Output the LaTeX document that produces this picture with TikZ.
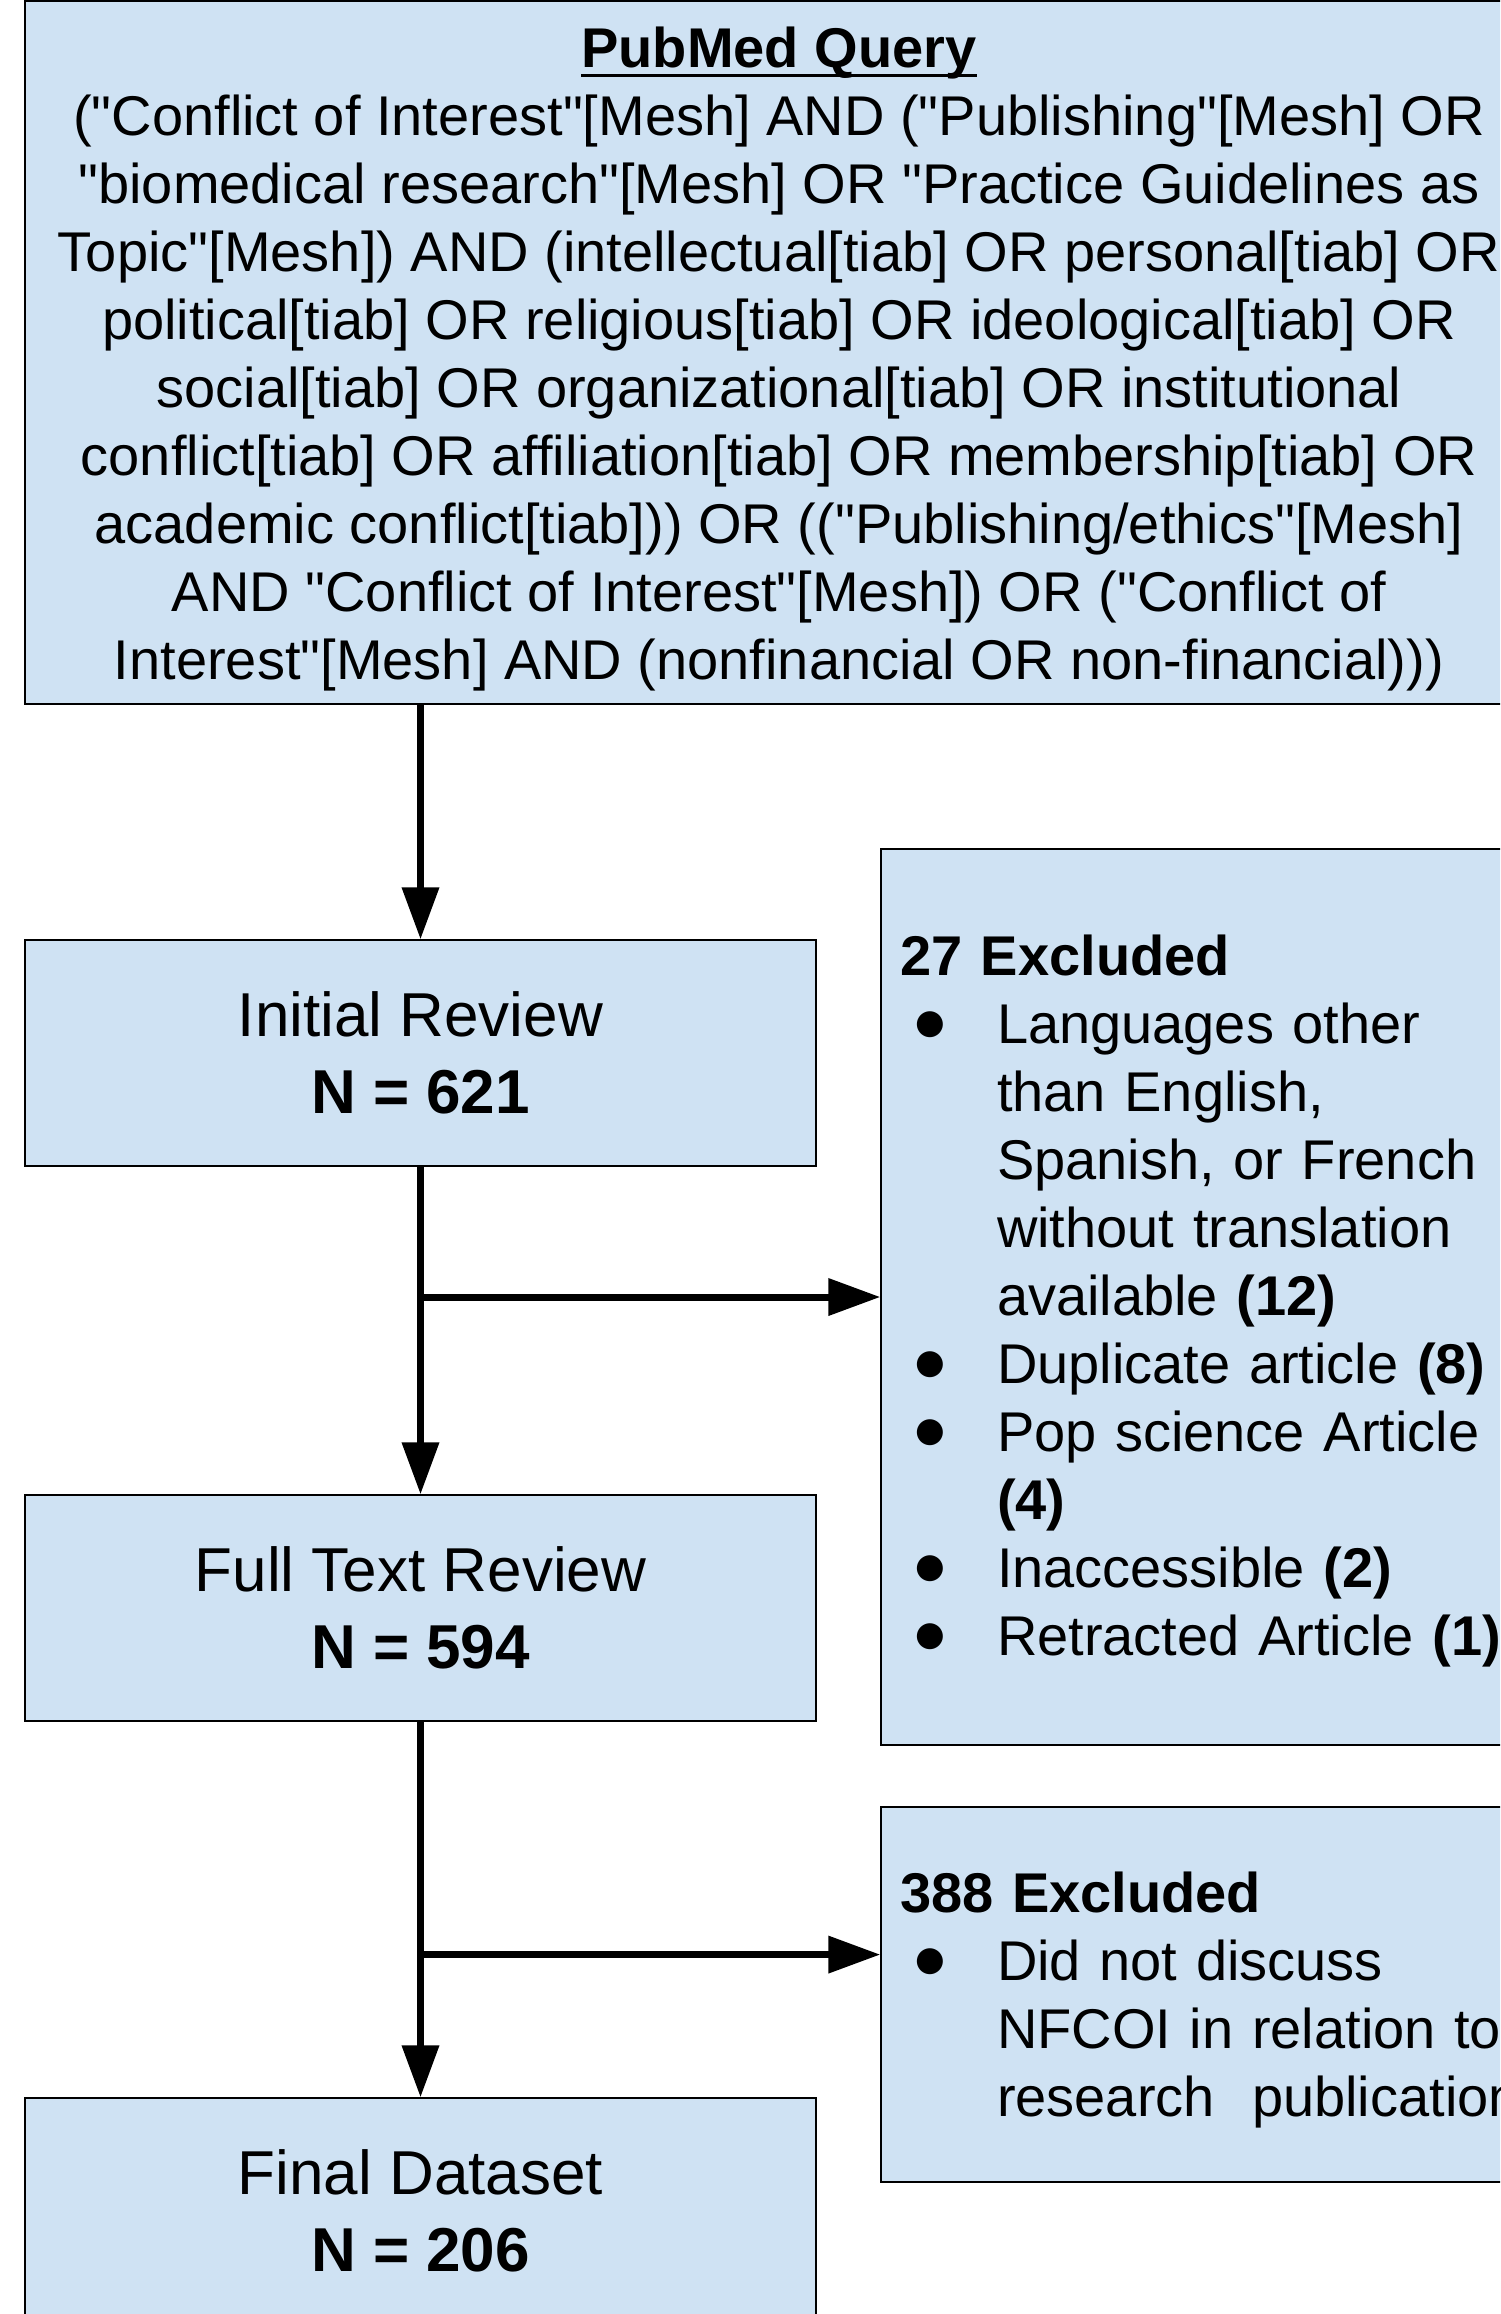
\documentclass[tikz,border=0pt]{standalone}
\usepackage{fontspec}
\setmainfont{Liberation Sans}[Ligatures=TeXOff]
\newfontfamily\symfont{DejaVu Sans}
\usetikzlibrary{arrows.meta,calc}
\definecolor{boxblue}{HTML}{CFE2F3}
\newcommand\bul{\raisebox{5.2pt}{\fontsize{17pt}{17pt}\symfont ●}}
\newcommand\itm{\makebox[48.5pt][l]{\hspace{7.85pt}\bul}}
\newcommand\ind{\hspace*{48.5pt}}
\newcommand\uline[1]{\setbox0\hbox{#1}\rlap{\rule[-4.7pt]{\wd0}{1.4pt}}\box0}

\begin{document}
\begin{tikzpicture}[x=0.5pt,y=-0.5pt,
	box/.style={draw=black, line width=0.7pt, fill=boxblue, rectangle, inner sep=0pt, align=center},
	big/.style={font=\fontsize{31pt}{38.5pt}\selectfont},
	small/.style={font=\fontsize{28pt}{34pt}\selectfont},
	arr/.style={line width=3.5pt, -{Triangle[length=26pt,width=18pt]}}]
	\useasboundingbox (0,0) rectangle (1500,2314);
	\clip (0,0) rectangle (1500,2314);

	% search query
	\node[box, small, minimum width=754pt, minimum height=351.5pt] (query) at (779,352.5) {\rule{0pt}{26.5pt}\uline{\textbf{PubMed Query}}\\
		("Conflict of Interest"[Mesh] AND ("Publishing"[Mesh] OR\\
		"biomedical research"[Mesh] OR "Practice Guidelines as\\
		Topic"[Mesh]) AND (intellectual[tiab] OR personal[tiab] OR\\
		political[tiab] OR religious[tiab] OR ideological[tiab] OR\\
		social[tiab] OR organizational[tiab] OR institutional\\
		conflict[tiab] OR affiliation[tiab] OR membership[tiab] OR\\
		academic conflict[tiab])) OR (("Publishing/ethics"[Mesh]\\
		AND "Conflict of Interest"[Mesh]) OR ("Conflict of\\
		Interest"[Mesh] AND (nonfinancial OR non-financial)))};

	% review stages
	\node[box, big, minimum width=395.5pt, minimum height=113pt] (init) at (420.5,1053) {Initial Review\\\textbf{N = 621}};
	\node[box, big, minimum width=395.5pt, minimum height=113pt] (full) at (420.5,1608) {Full Text Review\\\textbf{N = 594}};
	\node[box, big, minimum width=395.5pt, minimum height=113pt] (final) at (420.5,2211) {Final Dataset\\\textbf{N = 206}};

	% exclusions
	\node[box, small, align=left, text width=340.5pt, inner xsep=9.5pt, minimum height=448pt] (ex1) at (1240.5,1297) {\rule{0pt}{24.5pt}\textbf{27 Excluded}\\
		\itm Languages other\\
		\ind than English,\\
		\ind Spanish, or French\\
		\ind without translation\\
		\ind available \textbf{(12)}\\
		\itm Duplicate article \textbf{(8)}\\
		\itm Pop science Article\\
		\ind\textbf{(4)}\\
		\itm Inaccessible \textbf{(2)}\\
		\itm Retracted Article \textbf{(1)}};
	\node[box, small, align=left, text width=340.5pt, inner xsep=9.5pt, minimum height=187.5pt] (ex2) at (1240.5,1994.5) {\rule{0pt}{26pt}\textbf{388 Excluded}\\
		\itm Did not discuss\\
		\ind NFCOI in relation to\\
		\ind research\ \ publications};

	\draw[arr] (query.south -| init.north) -- (init.north);
	\draw[arr] (init.south) -- (full.north);
	\draw[arr] (init.south |- ex1.west) -- (ex1.west);
	\draw[arr] (full.south) -- (final.north);
	\coordinate (split) at ($(full.south)!0.62!(final.north)$);
	\draw[arr] (split) -- (split -| ex2.west);
\end{tikzpicture}
\end{document}
